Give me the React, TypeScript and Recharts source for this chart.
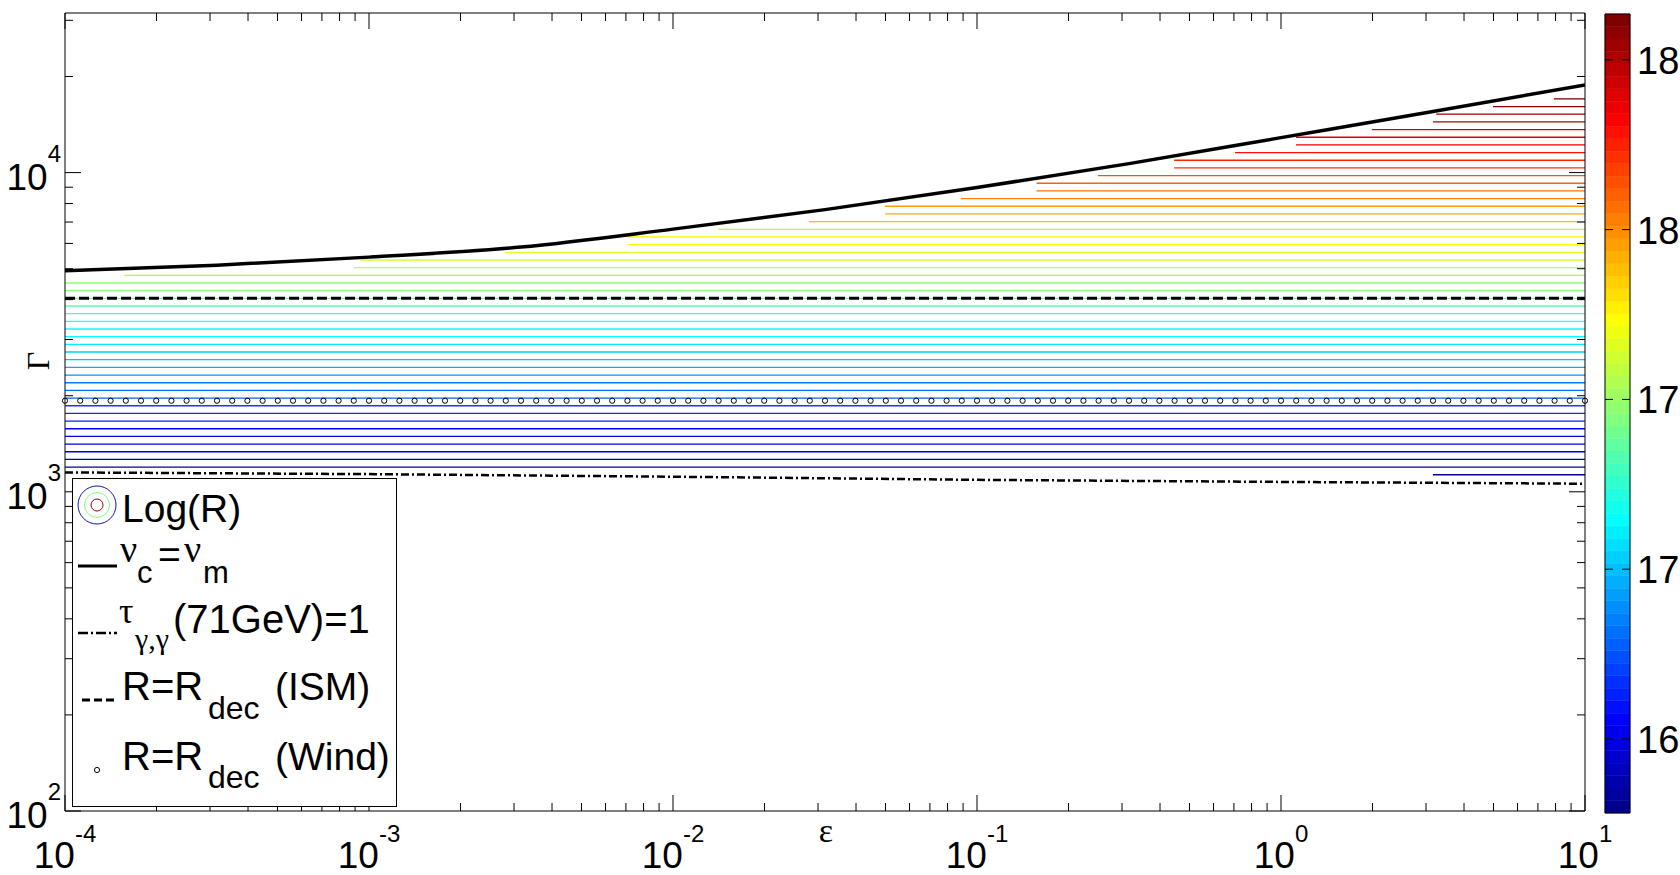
import React from 'react';
import { ComposedChart, Line, XAxis, YAxis, ReferenceArea } from 'recharts';

const FONT = '"Liberation Sans", Arial, Helvetica, sans-serif';
const SERIF = '"Liberation Serif", "Times New Roman", serif';

// ---------- axes ----------
const X_DOMAIN: [number, number] = [1e-4, 10];
const Y_DOMAIN: [number, number] = [100, 31623];
const epsMajorTicks = [1e-4, 1e-3, 1e-2, 1e-1, 1, 10];
const epsMajorLabels = ['-4', '-3', '-2', '-1', '0', '1'];
const epsMinorTicks = [
  2e-4, 3e-4, 4e-4, 5e-4, 6e-4, 7e-4, 8e-4, 9e-4,
  2e-3, 3e-3, 4e-3, 5e-3, 6e-3, 7e-3, 8e-3, 9e-3,
  2e-2, 3e-2, 4e-2, 5e-2, 6e-2, 7e-2, 8e-2, 9e-2,
  0.2, 0.3, 0.4, 0.5, 0.6, 0.7, 0.8, 0.9,
  2, 3, 4, 5, 6, 7, 8, 9,
];
const gammaMajorTicks = [100, 1000, 10000];
const gammaMajorLabels = ['2', '3', '4'];
const gammaMinorTicks = [200, 300, 400, 500, 600, 700, 800, 900, 2000, 3000, 4000, 5000, 6000, 7000, 8000, 9000, 20000, 30000];

// ---------- colorbar ----------
const CB_MIN = 16.282;
const CB_MAX = 18.635;
const cbTicks = [16.5, 17, 17.5, 18, 18.5];
const cbTickLabels = ['16', '17', '17', '18', '18'];

// ---------- data ----------
// nu_c = nu_m boundary
const numEps = [1e-4, 3.162e-4, 1e-3, 3.162e-3, 1e-2, 3.162e-2, 0.1, 0.3162, 1, 3.162, 10];
const numGamma = [4930, 5129, 5435, 5843, 6651, 7656, 8975, 10670, 12870, 15530, 18830];

// tau_gamma,gamma(71 GeV) = 1
const tauEps = [1e-4, 1e-3, 1e-2, 1e-1, 1, 10];
const tauGamma = [1150, 1136, 1115, 1090, 1074, 1060];

// R = R_dec (ISM)
const ismEps = [1e-4, 10];
const ismGamma = [4040, 4040];

// R = R_dec (Wind)
const windGamma = 1929;
const windLogEps = [
  -4, -3.95, -3.9, -3.85, -3.8, -3.75, -3.7, -3.65, -3.6, -3.55, -3.5, -3.45, -3.4, -3.35, -3.3, -3.25, -3.2, -3.15, -3.1, -3.05,
  -3, -2.95, -2.9, -2.85, -2.8, -2.75, -2.7, -2.65, -2.6, -2.55, -2.5, -2.45, -2.4, -2.35, -2.3, -2.25, -2.2, -2.15, -2.1, -2.05,
  -2, -1.95, -1.9, -1.85, -1.8, -1.75, -1.7, -1.65, -1.6, -1.55, -1.5, -1.45, -1.4, -1.35, -1.3, -1.25, -1.2, -1.15, -1.1, -1.05,
  -1, -0.95, -0.9, -0.85, -0.8, -0.75, -0.7, -0.65, -0.6, -0.55, -0.5, -0.45, -0.4, -0.35, -0.3, -0.25, -0.2, -0.15, -0.1, -0.05,
  0, 0.05, 0.1, 0.15, 0.2, 0.25, 0.3, 0.35, 0.4, 0.45, 0.5, 0.55, 0.6, 0.65, 0.7, 0.75, 0.8, 0.85, 0.9, 0.95, 1,
];

// Log(R) contour levels (Gamma of each horizontal contour, top to bottom) and where each starts in epsilon
const contourGamma = [
  17022, 16106, 15239, 14418, 13642, 12907, 12212, 11555, 10933, 10344,
  9787, 9260, 8762, 8290, 7844, 7421, 7022, 6644, 6286, 5948,
  5627, 5324, 5038, 4766, 4510, 4267, 4037, 3820, 3614, 3420,
  3236, 3061, 2897, 2741, 2593, 2454, 2321, 2196, 2078, 1966,
  1860, 1760, 1665, 1576, 1491, 1411, 1335, 1263, 1195, 1131,
];
const contourStartEps = [
  7.9, 4.98, 3.24, 3.16, 1.99, 1.12, 1.12, 0.706, 0.445, 0.445,
  0.25, 0.157, 0.157, 0.0885, 0.0498, 0.0498, 0.028, 0.0141, 0.00706, 0.00706,
  0.0028, 0.00094, 0.00089, 0.000157, 1e-4, 1e-4, 1e-4, 1e-4, 1e-4, 1e-4,
  1e-4, 1e-4, 1e-4, 1e-4, 1e-4, 1e-4, 1e-4, 1e-4, 1e-4, 1e-4,
  1e-4, 1e-4, 1e-4, 1e-4, 1e-4, 1e-4, 1e-4, 1e-4, 1e-4, 3.16,
];
const contourEndEps = 10;

// ---------- colormap (style) ----------
function jet(t: number): string {
  const c = (v: number) => Math.round(255 * Math.max(0, Math.min(1, v)));
  return `rgb(${c(1.5 - Math.abs(4 * t - 3))},${c(1.5 - Math.abs(4 * t - 2))},${c(1.5 - Math.abs(4 * t - 1))})`;
}
const jet64 = (i: number) => jet(i / 64);

// ---------- geometry (style) ----------
const PL = 65, PT = 13, PR = 1585, PB = 811;
const MAJ = 16, MIN = 8;

const isMajor = (v: number) => {
  const l = Math.log10(v);
  return Math.abs(l - Math.round(l)) < 1e-6;
};
const majIndex = (arr: number[], v: number) =>
  arr.findIndex((t) => Math.abs(Math.log10(t) - Math.log10(v)) < 1e-6);

const BottomTick = (p: any) => {
  const v = p.payload.value;
  const x = p.x;
  const maj = isMajor(v);
  const idx = majIndex(epsMajorTicks, v);
  return (
    <g>
      <line x1={x} x2={x} y1={PB} y2={PB - (maj ? MAJ : MIN)} stroke="#000" strokeWidth={1} />
      {maj && idx >= 0 && (
        <text x={x} y={868} textAnchor="middle" fontFamily={FONT} fontSize={37} fill="#000">
          10<tspan dy={-26} fontSize={24}>{epsMajorLabels[idx]}</tspan>
        </text>
      )}
    </g>
  );
};
const TopTick = (p: any) => {
  const v = p.payload.value;
  const x = p.x;
  const maj = isMajor(v);
  return <line x1={x} x2={x} y1={PT} y2={PT + (maj ? MAJ : MIN)} stroke="#000" strokeWidth={1} />;
};
const LeftTick = (p: any) => {
  const v = p.payload.value;
  const y = p.y;
  const maj = isMajor(v);
  const idx = majIndex(gammaMajorTicks, v);
  return (
    <g>
      <line x1={PL} x2={PL + (maj ? MAJ : MIN)} y1={y} y2={y} stroke="#000" strokeWidth={1} />
      {maj && idx >= 0 && (
        <text x={61} y={y + 17} textAnchor="end" fontFamily={FONT} fontSize={37} fill="#000">
          10<tspan dy={-28} fontSize={24}>{gammaMajorLabels[idx]}</tspan>
        </text>
      )}
    </g>
  );
};
const RightTick = (p: any) => {
  const v = p.payload.value;
  const y = p.y;
  const maj = isMajor(v);
  return <line x1={PR} x2={PR - (maj ? MAJ : MIN)} y1={y} y2={y} stroke="#000" strokeWidth={1} />;
};
const CbTick = (p: any) => {
  const v = p.payload.value;
  const y = p.y;
  const idx = cbTicks.findIndex((t) => Math.abs(t - v) < 1e-9);
  return (
    <g>
      <line x1={1605} x2={1613} y1={y} y2={y} stroke="#000" strokeWidth={1} />
      <line x1={1622} x2={1630} y1={y} y2={y} stroke="#000" strokeWidth={1} />
      <text x={1637} y={y + 14} fontFamily={FONT} fontSize={38} fill="#000">{cbTickLabels[idx]}</text>
    </g>
  );
};

const xTicks = [...epsMajorTicks, ...epsMinorTicks].sort((a, b) => a - b);
const yTicks = [...gammaMajorTicks, ...gammaMinorTicks].sort((a, b) => a - b);

export default function App() {
  const numData = numEps.map((x, i) => ({ x, y: numGamma[i] }));
  const tauData = tauEps.map((x, i) => ({ x, y: tauGamma[i] }));
  const ismData = ismEps.map((x, i) => ({ x, y: ismGamma[i] }));
  const windData = windLogEps.map((e) => ({ x: Math.pow(10, e), y: windGamma }));
  const n = contourGamma.length;
  const contours = contourGamma.map((g, k) => {
    const t = (n - 1 - k) / (n - 1);
    const idx = Math.min(64, Math.floor(t * 64) + 1);
    return {
      color: jet64(idx),
      data: [
        { x: contourStartEps[k], y: g },
        { x: contourEndEps, y: g },
      ],
    };
  });
  const bandStep = (CB_MAX - CB_MIN) / 64;
  const bands = Array.from({ length: 64 }, (_, i) => ({
    y1: CB_MIN + i * bandStep,
    y2: CB_MIN + (i + 1) * bandStep,
    color: jet64(i + 1),
  }));

  return (
    <div style={{ position: 'absolute', left: 0, top: 0, width: 1680, height: 875, background: '#fff', overflow: 'hidden' }}>
      <div style={{ position: 'absolute', left: 0, top: 0 }}>
        <ComposedChart width={1680} height={875} margin={{ top: 0, right: 0, bottom: 0, left: 0 }}>
          <XAxis xAxisId="b" dataKey="x" type="number" scale="log" domain={X_DOMAIN} allowDataOverflow ticks={xTicks} interval={0}
            height={875 - PB} orientation="bottom" axisLine={{ stroke: '#000', strokeWidth: 1 }} tickLine={false} tick={BottomTick} />
          <XAxis xAxisId="t" dataKey="x" type="number" scale="log" domain={X_DOMAIN} allowDataOverflow ticks={xTicks} interval={0}
            height={PT} orientation="top" axisLine={{ stroke: '#000', strokeWidth: 1 }} tickLine={false} tick={TopTick} />
          <YAxis yAxisId="l" type="number" scale="log" domain={Y_DOMAIN} allowDataOverflow ticks={yTicks} interval={0}
            width={PL} orientation="left" axisLine={{ stroke: '#000', strokeWidth: 1 }} tickLine={false} tick={LeftTick} />
          <YAxis yAxisId="r" type="number" scale="log" domain={Y_DOMAIN} allowDataOverflow ticks={yTicks} interval={0}
            width={1680 - PR} orientation="right" axisLine={{ stroke: '#000', strokeWidth: 1 }} tickLine={false} tick={RightTick} />

          <Line xAxisId="t" yAxisId="r" data={[{ x: 1e-4, y: 100 }, { x: 10, y: 100 }]} dataKey="y" stroke="none" dot={false}
            isAnimationActive={false} />

          {contours.map((c, k) => (
            <Line key={'c' + k} xAxisId="b" yAxisId="l" data={c.data} dataKey="y" stroke={c.color} strokeWidth={1.3}
              dot={false} isAnimationActive={false} />
          ))}

          <Line xAxisId="b" yAxisId="l" data={ismData} dataKey="y" stroke="#000" strokeWidth={3} strokeDasharray="10 4"
            dot={false} isAnimationActive={false} />
          <Line xAxisId="b" yAxisId="l" data={tauData} dataKey="y" stroke="#000" strokeWidth={2.5} strokeDasharray="8 3 2 3"
            dot={false} isAnimationActive={false} />
          <Line xAxisId="b" yAxisId="l" type="monotone" data={numData} dataKey="y" stroke="#000" strokeWidth={3.5}
            dot={false} isAnimationActive={false} />
          <Line xAxisId="b" yAxisId="l" data={windData} dataKey="y" stroke="none"
            dot={{ r: 2.6, stroke: '#000', strokeWidth: 1, fill: 'none', clipDot: false } as any} isAnimationActive={false} />
        </ComposedChart>
      </div>

      <div style={{ position: 'absolute', left: 0, top: 0 }}>
        <ComposedChart width={1680} height={875} margin={{ top: 14, right: 0, bottom: 62, left: 1605 }} data={[{ x: 0 }, { x: 1 }]}>
          <XAxis dataKey="x" type="number" domain={[0, 1]} hide />
          <YAxis type="number" domain={[CB_MIN, CB_MAX]} allowDataOverflow orientation="right" width={50} ticks={cbTicks}
            interval={0} axisLine={false} tickLine={false} tick={CbTick} />
          {bands.map((b, i) => (
            <ReferenceArea key={'b' + i} x1={0} x2={1} y1={b.y1} y2={b.y2} fill={b.color} fillOpacity={1}
              stroke={b.color} strokeWidth={0.5} />
          ))}
          <ReferenceArea x1={0} x2={1} y1={CB_MIN} y2={CB_MAX} fill="none" fillOpacity={0} stroke="#000" strokeWidth={1} />
        </ComposedChart>
      </div>

      <svg width={1680} height={875} style={{ position: 'absolute', left: 0, top: 0, pointerEvents: 'none' }}>
        {/* axis labels */}
        <text x={37} y={372.5} transform="rotate(-90 37 361)" textAnchor="middle" fontFamily={SERIF} fontSize={32} fill="#000">Γ</text>
        <text x={826} y={842} textAnchor="middle" fontFamily={SERIF} fontSize={34} fill="#000">ε</text>

        {/* legend */}
        <rect x={72.5} y={478.5} width={324} height={328} fill="#fff" stroke="#000" strokeWidth={1} />
        <circle cx={97} cy={505} r={19} fill="none" stroke="#1414b4" strokeWidth={1} />
        <circle cx={97} cy={505} r={12.5} fill="none" stroke="#7fff7f" strokeWidth={1} />
        <circle cx={97} cy={505} r={6} fill="none" stroke="#9a0000" strokeWidth={1} />
        <text x={122} y={522} fontFamily={FONT} fontSize={39} fill="#000">Log(R)</text>

        <line x1={78} x2={117} y1={566} y2={566} stroke="#000" strokeWidth={3} />
        <text fontFamily={FONT} fill="#000">
          <tspan x={120} y={562} fontFamily={SERIF} fontSize={38}>ν</tspan>
          <tspan x={137} y={583} fontSize={31}>c</tspan>
          <tspan x={158} y={568} fontSize={39}>=</tspan>
          <tspan x={184} y={562} fontFamily={SERIF} fontSize={38}>ν</tspan>
          <tspan x={203} y={583} fontSize={31}>m</tspan>
        </text>

        <line x1={78} x2={117} y1={633} y2={633} stroke="#000" strokeWidth={2.5} strokeDasharray="10 3 2 3" />
        <text fontFamily={FONT} fill="#000">
          <tspan x={119} y={623} fontFamily={SERIF} fontSize={36}>τ</tspan>
          <tspan x={135} y={649} fontFamily={SERIF} fontSize={30}>γ,γ</tspan>
          <tspan x={173} y={633} fontSize={40}>(71GeV)=1</tspan>
        </text>

        <line x1={82} x2={117} y1={700} y2={700} stroke="#000" strokeWidth={3} strokeDasharray="8 4" />
        <text fontFamily={FONT} fill="#000">
          <tspan x={122} y={700} fontSize={40}>R=R</tspan>
          <tspan x={208} y={719} fontSize={32}>dec</tspan>
          <tspan x={275} y={700} fontSize={39}>(ISM)</tspan>
        </text>

        <circle cx={97} cy={770} r={2.6} fill="none" stroke="#000" strokeWidth={1} />
        <text fontFamily={FONT} fill="#000">
          <tspan x={122} y={770} fontSize={40}>R=R</tspan>
          <tspan x={208} y={788} fontSize={32}>dec</tspan>
          <tspan x={275} y={770} fontSize={39}>(Wind)</tspan>
        </text>
      </svg>
    </div>
  );
}
